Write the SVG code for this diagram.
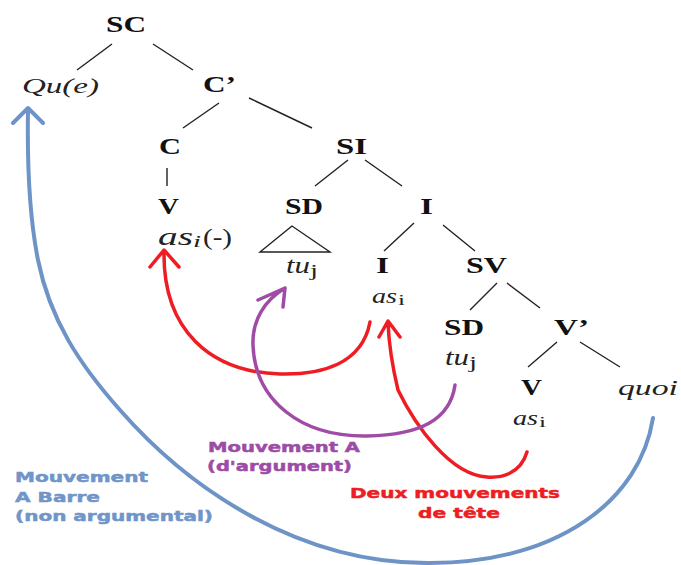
<svg xmlns="http://www.w3.org/2000/svg" width="681" height="565" viewBox="0 0 681 565">
<style>
.n{font-family:"Liberation Serif",serif;font-weight:bold;font-size:23px;fill:#111}
.it{font-family:"Liberation Serif",serif;font-style:italic;fill:#222}
.rm{font-family:"Liberation Serif",serif;fill:#222}
.e{stroke:#222;stroke-width:1.4;fill:none}
.lbl{font-family:"DejaVu Sans",sans-serif;font-weight:bold;font-size:14.5px;stroke-width:0.5}
.mv{fill:none;stroke-width:3.5;stroke-linecap:round;stroke-linejoin:round}
.red{stroke:#ee1d23}.pur{stroke:#a04ca7}.blu{stroke:#6e94c7;stroke-width:4}
</style>
<rect width="681" height="565" fill="#fff"/>
<g id="edges">
<path class="e" d="M112,44L77,70M153,44L193,70M219,103L183,128M249,98L312,128M167,168L167,186M348,160L315,186M365,160L402,186M414,223L384,251M443,225L475,251M497,283L470,310M507,283L540,308M557,342L528,367M580,342L620,367"/>
<polygon class="e" points="292,226 260,252 330,252"/>
</g>
<g id="node-SC"><text class="n" x="106" y="32" textLength="40" lengthAdjust="spacingAndGlyphs">SC</text></g>
<g id="node-Que"><text class="it" x="22" y="93" font-size="22" textLength="77" lengthAdjust="spacingAndGlyphs">Qu(e)</text></g>
<g id="node-Cbar"><text class="n" x="203" y="92" textLength="33" lengthAdjust="spacingAndGlyphs">C’</text></g>
<g id="node-C"><text class="n" x="159" y="154" textLength="22" lengthAdjust="spacingAndGlyphs">C</text></g>
<g id="node-SI"><text class="n" x="336" y="154" textLength="31" lengthAdjust="spacingAndGlyphs">SI</text></g>
<g id="node-V1"><text class="n" x="158" y="214" textLength="21" lengthAdjust="spacingAndGlyphs">V</text>
<text class="it" x="158" y="245" font-size="26" textLength="35" lengthAdjust="spacingAndGlyphs">as</text>
<text class="it" x="193" y="247" font-size="16" textLength="8" lengthAdjust="spacingAndGlyphs">i</text>
<text class="rm" x="203" y="245" font-size="23" textLength="29" lengthAdjust="spacingAndGlyphs">(-)</text></g>
<g id="node-SD1"><text class="n" x="285" y="214" textLength="38" lengthAdjust="spacingAndGlyphs">SD</text>
<text class="it" x="286" y="273" font-size="23" textLength="24" lengthAdjust="spacingAndGlyphs">tu</text>
<text class="rm" x="310" y="276" font-size="16" textLength="8" lengthAdjust="spacingAndGlyphs">j</text></g>
<g id="node-I1"><text class="n" x="420" y="214" textLength="13" lengthAdjust="spacingAndGlyphs">I</text></g>
<g id="node-I2"><text class="n" x="376" y="273" textLength="13" lengthAdjust="spacingAndGlyphs">I</text>
<text class="it" x="372" y="303" font-size="22" textLength="25" lengthAdjust="spacingAndGlyphs">as</text>
<text class="rm" x="398" y="305" font-size="15" textLength="7" lengthAdjust="spacingAndGlyphs">i</text></g>
<g id="node-SV"><text class="n" x="466" y="273" textLength="41" lengthAdjust="spacingAndGlyphs">SV</text></g>
<g id="node-SD2"><text class="n" x="444" y="335" textLength="40" lengthAdjust="spacingAndGlyphs">SD</text>
<text class="it" x="445" y="365" font-size="23" textLength="24" lengthAdjust="spacingAndGlyphs">tu</text>
<text class="rm" x="469" y="368" font-size="16" textLength="8" lengthAdjust="spacingAndGlyphs">j</text></g>
<g id="node-Vbar"><text class="n" x="554" y="335" textLength="35" lengthAdjust="spacingAndGlyphs">V’</text></g>
<g id="node-V2"><text class="n" x="521" y="395" textLength="21" lengthAdjust="spacingAndGlyphs">V</text>
<text class="it" x="513" y="425" font-size="22" textLength="25" lengthAdjust="spacingAndGlyphs">as</text>
<text class="rm" x="539" y="427" font-size="15" textLength="7" lengthAdjust="spacingAndGlyphs">i</text></g>
<g id="node-quoi"><text class="it" x="618" y="395" font-size="22" textLength="60" lengthAdjust="spacingAndGlyphs">quoi</text></g>
<g id="connectors">
<path class="mv blu" d="M653,418C640,500 560,562 430,563C300,564 190,490 120,410C80,365 50,320 38,260C30,220 27,170 28,110M13,123L28,108L43,123"/>
<path class="mv red" d="M370,322C362,365 320,375 280,374C210,372 163,330 164,252M150,267L164,250L179,267"/>
<path class="mv red" d="M527,452C520,475 500,478 487,477C450,475 415,425 398,390C392,365 389,345 388,323M379,337L388,321L400,337"/>
<path class="mv pur" d="M455,385C450,420 420,435 367,436C300,437 255,400 253,345C252,320 265,300 285,288M258,300L285,288L283,307"/>
</g>
<g id="labels">
<text class="lbl" fill="#9d4ca6" stroke="#9d4ca6" x="208" y="452" textLength="152" lengthAdjust="spacingAndGlyphs">Mouvement A</text>
<text class="lbl" fill="#9d4ca6" stroke="#9d4ca6" x="207" y="471" textLength="145" lengthAdjust="spacingAndGlyphs">(d'argument)</text>
<text class="lbl" fill="#6f95c9" stroke="#6f95c9" x="15" y="482" textLength="133" lengthAdjust="spacingAndGlyphs">Mouvement</text>
<text class="lbl" fill="#6f95c9" stroke="#6f95c9" x="15" y="502" textLength="85" lengthAdjust="spacingAndGlyphs">A Barre</text>
<text class="lbl" fill="#6f95c9" stroke="#6f95c9" x="15" y="521" textLength="198" lengthAdjust="spacingAndGlyphs">(non argumental)</text>
<text class="lbl" fill="#ee1d23" stroke="#ee1d23" x="350" y="498" textLength="210" lengthAdjust="spacingAndGlyphs">Deux mouvements</text>
<text class="lbl" fill="#ee1d23" stroke="#ee1d23" x="418" y="518" textLength="82" lengthAdjust="spacingAndGlyphs">de tête</text>
</g>
</svg>
